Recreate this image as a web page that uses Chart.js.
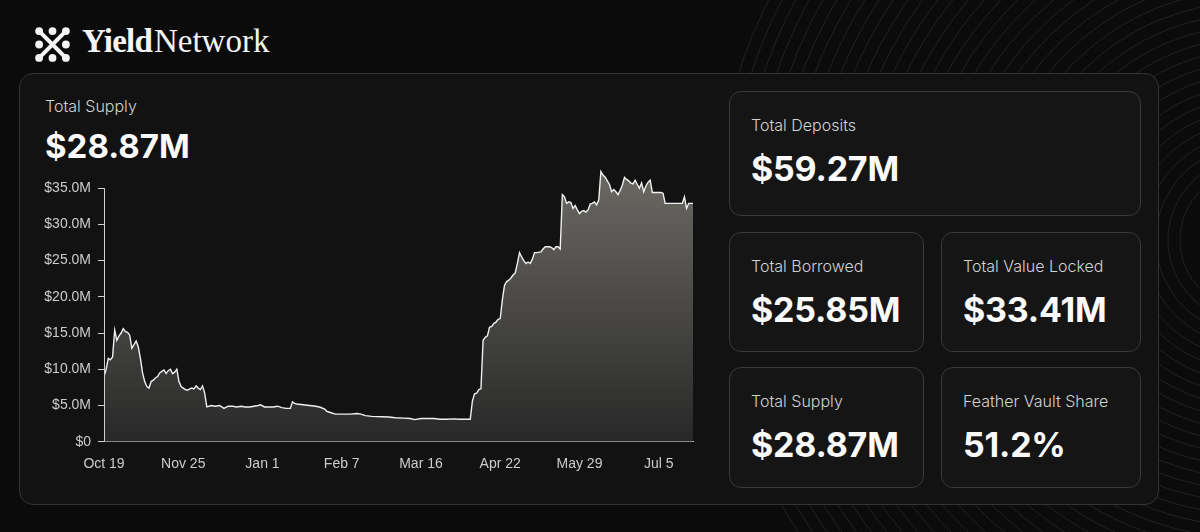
<!DOCTYPE html>
<html>
<head>
<meta charset="utf-8">
<script src="https://cdn.jsdelivr.net/npm/chart.js@4/dist/chart.umd.min.js"></script>
<style>
  body { margin: 0; width: 1200px; height: 532px; background: #0b0b0b; overflow: hidden; position: relative; font-family: Inter, 'Noto Sans', sans-serif; color: #fff; }
  .abs { position: absolute; }
  .rings { left: 0; top: 0; }
  .brand { left: 82px; top: 25px; font-family: 'Liberation Serif', 'DejaVu Serif', serif; font-size: 33px; line-height: 1; color: #f4f4f4; white-space: nowrap; }
  .brand b { letter-spacing: -0.8px; margin-right: 2px; }
  .panel { left: 19px; top: 73px; width: 1140px; height: 432px; border: 1px solid #343434; border-radius: 14px; background: #121212; box-sizing: border-box; }
  .card { position: absolute; border: 1px solid #3a3a3a; border-radius: 12px; background: #151515; box-sizing: border-box; }
  .lbl { position: absolute; left: 21px; top: 25px; font-size: 16px; line-height: 1; color: #d2d2d2; font-weight: 300; white-space: nowrap; }
  .val { position: absolute; left: 21px; top: 60px; font-size: 34px; line-height: 1; font-weight: 700; color: #fafafa; white-space: nowrap; letter-spacing: -0.2px; }
  #wrap { left: 30px; top: 151px; width: 670px; height: 339px; }
</style>
</head>
<body>
<svg class="abs rings" width="1200" height="532">
  <g fill="none" stroke="#ffffff" stroke-opacity="0.09" stroke-width="1" id="rg"></g>
</svg>

<svg class="abs" style="left:35px;top:27px" width="35" height="35" viewBox="0 0 34 34">
  <g fill="#f4f4f4">
    <circle cx="4" cy="4" r="3.8"/><circle cx="17" cy="4" r="3.8"/><circle cx="30" cy="4" r="3.8"/>
    <circle cx="4" cy="17" r="3.8"/><circle cx="30" cy="17" r="3.8"/>
    <circle cx="4" cy="30" r="3.8"/><circle cx="17" cy="30" r="3.8"/><circle cx="30" cy="30" r="3.8"/>
  </g>
  <g stroke="#f4f4f4" stroke-width="4" stroke-linecap="round">
    <line x1="5" y1="5" x2="29" y2="29"/><line x1="29" y1="5" x2="5" y2="29"/>
  </g>
</svg>
<div class="abs brand"><b>Yield</b><span>Network</span></div>

<div class="abs panel"></div>

<div class="abs" style="left:45px;top:98px;font-size:16px;line-height:1;color:#d2d2d2;font-weight:300">Total Supply</div>
<div class="abs" style="left:45px;top:130px;font-size:33px;line-height:1;font-weight:700;color:#fafafa">$28.87M</div>

<div class="abs" id="wrap"><canvas id="supplyChart"></canvas></div>

<div class="card" style="left:729px;top:91px;width:412px;height:125px"><div class="lbl">Total Deposits</div><div class="val">$59.27M</div></div>
<div class="card" style="left:729px;top:232px;width:195px;height:120px"><div class="lbl">Total Borrowed</div><div class="val">$25.85M</div></div>
<div class="card" style="left:941px;top:232px;width:200px;height:120px"><div class="lbl">Total Value Locked</div><div class="val">$33.41M</div></div>
<div class="card" style="left:729px;top:367px;width:195px;height:121px"><div class="lbl">Total Supply</div><div class="val">$28.87M</div></div>
<div class="card" style="left:941px;top:367px;width:200px;height:121px"><div class="lbl">Feather Vault Share</div><div class="val">51.2%</div></div>

<script>
// days since Oct 19, total supply in $M
const days = [
  0, 1, 2, 3, 4, 5, 6, 7, 8, 9,
  10, 11, 12, 13, 14, 15, 16, 17, 18, 19,
  20, 21, 22, 23, 24, 25, 26, 27, 28, 29,
  30, 31, 32, 33, 34, 35, 36, 37, 38, 39,
  40, 41, 42, 43, 44, 45, 46, 47, 48, 50,
  52, 54, 56, 58, 60, 62, 64, 66, 68, 70,
  72, 73, 75, 77, 79, 81, 83, 85, 87, 88,
  89, 90, 93, 96, 99, 101, 103, 104, 106, 108,
  112, 115, 118, 120, 122, 125, 130, 133, 136, 140,
  143, 145, 148, 150, 154, 157, 160, 163, 166, 169,
  171, 172, 173, 174, 175, 176, 177, 178, 179, 180,
  181, 182, 183, 184, 185, 186, 187, 188, 189, 190,
  191, 192, 193, 194, 195, 196, 197, 198, 199, 200,
  201, 202, 204, 205, 206, 208, 209, 210, 211, 212,
  213, 214, 215, 216, 217, 218, 219, 220, 221, 222,
  223, 224, 225, 226, 227, 228, 229, 230, 231, 232,
  233, 234, 235, 236, 237, 238, 239, 240, 241, 242,
  243, 244, 245, 246, 247, 248, 249, 250, 251, 252,
  253, 254, 255, 256, 258, 260, 261, 262, 265, 268,
  270, 271, 272, 273, 275
];
const supply = [
  9.0, 10.0, 11.5, 11.3, 11.7, 15.4, 14.0, 14.6, 15.0, 15.6,
  15.2, 15.1, 14.7, 12.9, 13.4, 13.9, 13.1, 11.5, 9.5, 8.3,
  7.6, 7.4, 8.3, 8.5, 8.8, 9.0, 9.5, 9.7, 9.9, 9.4,
  9.8, 10.0, 9.4, 9.6, 10.0, 8.3, 7.6, 7.4, 7.2, 7.1,
  7.3, 7.4, 7.3, 7.7, 7.4, 7.2, 7.7, 6.7, 4.8, 5.0,
  4.9, 5.0, 4.6, 4.9, 4.9, 4.8, 4.9, 4.8, 4.8, 4.9,
  5.0, 5.1, 4.8, 4.8, 4.8, 4.9, 4.7, 4.6, 4.6, 5.5,
  5.3, 5.2, 5.1, 5.0, 4.9, 4.75, 4.5, 4.2, 4.0, 3.8,
  3.8, 3.8, 3.9, 3.8, 3.6, 3.5, 3.45, 3.4, 3.3, 3.25,
  3.2, 3.05, 3.2, 3.2, 3.2, 3.1, 3.1, 3.15, 3.1, 3.1,
  3.1, 5.6, 6.6, 6.7, 7.2, 7.3, 14.0, 14.4, 14.6, 15.8,
  15.9, 16.3, 16.5, 16.9, 17.0, 19.6, 21.6, 22.1, 22.3, 22.6,
  23.0, 23.3, 24.6, 26.1, 25.5, 25.0, 24.6, 24.8, 24.6, 25.2,
  26.1, 26.1, 26.2, 26.6, 26.9, 26.9, 26.8, 26.5, 26.9, 26.9,
  26.6, 34.1, 33.8, 32.9, 33.1, 33.0, 32.2, 32.6, 32.0, 31.5,
  31.8, 31.9, 31.7, 32.0, 32.8, 32.9, 33.1, 32.7, 33.4, 37.3,
  36.8, 36.5, 36.0, 35.5, 34.5, 34.8, 34.5, 34.1, 34.7, 35.4,
  36.5, 36.2, 36.0, 35.7, 35.6, 36.1, 35.5, 35.0, 35.7, 34.5,
  35.3, 35.8, 36.1, 34.4, 34.4, 34.4, 34.3, 32.9, 32.9, 32.9,
  32.9, 33.8, 32.2, 32.9, 32.9
];
const tickLabels = ['Oct 19', 'Nov 25', 'Jan 1', 'Feb 7', 'Mar 16', 'Apr 22', 'May 29', 'Jul 5'];

// background rings
let rg = document.getElementById('rg');
for (let r = 70; r < 540; r += 12) {
  let c = document.createElementNS('http://www.w3.org/2000/svg', 'circle');
  c.setAttribute('cx', 1250); c.setAttribute('cy', 240); c.setAttribute('r', r);
  rg.appendChild(c);
}

const axisColor = '#cfcfcf';
const tickFont = { family: "'Liberation Sans', Arial, sans-serif", size: 14 };

// y axis line only runs up to the top tick
const yLine = {
  id: 'yLine',
  afterDraw(chart) {
    let ctx = chart.ctx, y = chart.scales.y, x = chart.chartArea.left + 0.5;
    ctx.save();
    ctx.strokeStyle = axisColor;
    ctx.lineWidth = 1;
    ctx.beginPath();
    ctx.moveTo(x, y.getPixelForValue(0));
    ctx.lineTo(x, y.getPixelForValue(35));
    ctx.stroke();
    ctx.restore();
  }
};

new Chart('supplyChart', {
  type: 'line',
  data: {
    datasets: [{
      data: days.map((d, i) => ({ x: d, y: supply[i] })),
      borderColor: '#f0f0f0',
      borderWidth: 1.4,
      pointRadius: 0,
      tension: 0,
      fill: 'origin',
      backgroundColor(context) {
        let area = context.chart.chartArea;
        if (!area) return 'rgba(80,80,78,0.8)';
        let g = context.chart.ctx.createLinearGradient(0, area.top, 0, area.bottom);
        g.addColorStop(0, '#6c6a65');
        g.addColorStop(0.5, '#4a4946');
        g.addColorStop(1, '#282828');
        return g;
      }
    }]
  },
  options: {
    responsive: true,
    maintainAspectRatio: false,
    animation: false,
    layout: { padding: { top: 7, right: 7 } },
    plugins: { legend: { display: false }, tooltip: { enabled: false } },
    scales: {
      x: {
        type: 'linear',
        min: 0,
        max: 275,
        afterFit(scale) { scale.height = 48.3; },
        grid: { display: false },
        border: { display: true, color: axisColor, width: 1 },
        ticks: {
          stepSize: 37,
          includeBounds: false,
          autoSkip: false,
          maxRotation: 0,
          padding: 6,
          color: '#cccccc',
          font: tickFont,
          callback: (v, i) => tickLabels[i]
        }
      },
      y: {
        min: 0,
        max: 38,
        afterFit(scale) { scale.width = 74; },
        grid: { drawOnChartArea: false, drawTicks: true, tickLength: 6, color: axisColor },
        border: { display: false },
        ticks: {
          stepSize: 5,
          includeBounds: false,
          padding: 7,
          color: '#cccccc',
          font: tickFont,
          callback: v => v === 0 ? '$0' : '$' + v.toFixed(1) + 'M'
        }
      }
    }
  },
  plugins: [yLine]
});
</script>
</body>
</html>
